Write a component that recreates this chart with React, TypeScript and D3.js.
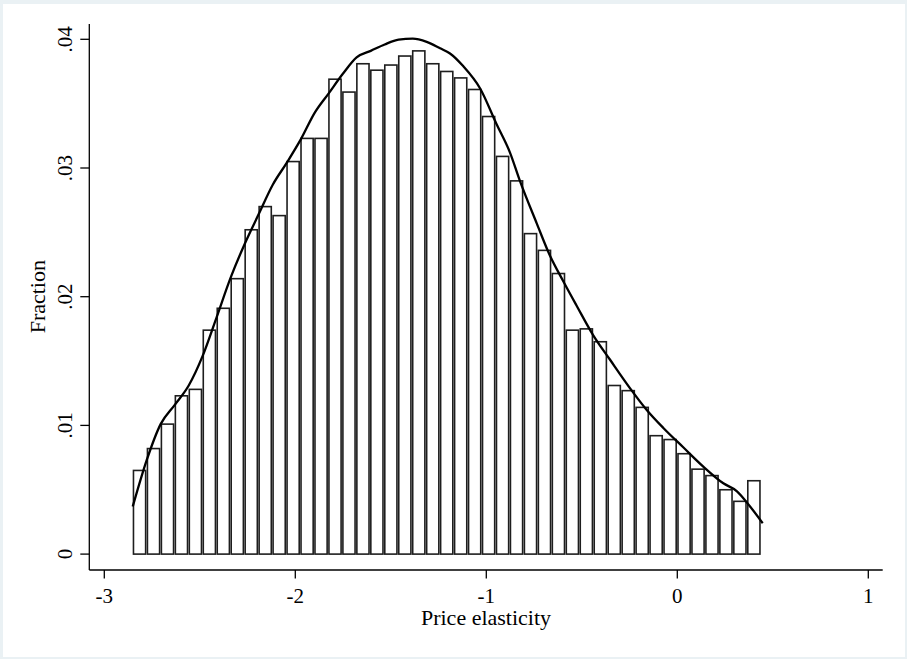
import { scaleLinear, line, curveMonotoneX } from "d3";

// histogram bins: start of first bin and common bin width (price elasticity units)
const binStart = -2.852;
const binWidth = 0.0731;

const barValues = [
  0.0065, 0.0082, 0.0101, 0.0123, 0.0128, 0.0174, 0.0191, 0.0214, 0.0252, 0.027,
  0.0263, 0.0305, 0.0323, 0.0323, 0.0369, 0.0359, 0.0381, 0.0376, 0.038, 0.0387,
  0.0391, 0.0381, 0.0375, 0.037, 0.0361, 0.034, 0.0309, 0.029, 0.0249, 0.0236,
  0.0218, 0.0174, 0.0175, 0.0165, 0.0131, 0.0127, 0.0114, 0.0092, 0.0089, 0.0078,
  0.0066, 0.0061, 0.005, 0.0041, 0.0057,
];

// smooth density curve (scaled to fraction)
const curveX = [
  -2.851, -2.778, -2.705, -2.631, -2.558, -2.485, -2.412, -2.338, -2.265, -2.192,
  -2.118, -2.045, -1.972, -1.898, -1.825, -1.752, -1.679, -1.605, -1.532, -1.459,
  -1.385, -1.312, -1.242, -1.19, -1.12, -1.033, -0.946, -0.876, -0.824, -0.736,
  -0.667, -0.597, -0.527, -0.44, -0.352, -0.248, -0.16, -0.073, 0.031, 0.136,
  0.241, 0.311, 0.381, 0.447,
];
const curveY = [
  0.0037, 0.0073, 0.0101, 0.0116, 0.0131, 0.0154, 0.0184, 0.0215, 0.0241, 0.0264,
  0.0287, 0.0304, 0.0322, 0.0343, 0.0358, 0.0373, 0.0386, 0.0391, 0.0396, 0.03997,
  0.04005, 0.0398, 0.0393, 0.0389, 0.0379, 0.0362, 0.0334, 0.0312, 0.029, 0.0257,
  0.0232, 0.0212, 0.0193, 0.017, 0.0151, 0.0129, 0.0112, 0.0098, 0.0083, 0.0068,
  0.0055, 0.0049, 0.0037, 0.0024,
];

const xTicks = [-3, -2, -1, 0, 1];
const yTicks = [0, 0.01, 0.02, 0.03, 0.04];
const yTickLabels = ["0", ".01", ".02", ".03", ".04"];

const W = 907;
const H = 659;
const font = "'Liberation Serif', 'Times New Roman', serif";

export default function App() {
  const x = scaleLinear().domain([-3, 1]).range([104.3, 868.3]);
  const y = scaleLinear().domain([0, 0.04]).range([554.1, 39.3]);

  const axisLeft = 89.3;
  const axisRight = 882.7;
  const axisTop = 24;
  const axisBottom = 570;

  const pts = curveX.map((v, i) => [v, curveY[i]] as [number, number]);
  const path = line<[number, number]>()
    .x((d) => x(d[0]))
    .y((d) => y(d[1]))
    .curve(curveMonotoneX)(pts);

  const step = x(binStart + binWidth) - x(binStart);

  return (
    <svg
      width={W}
      height={H}
      style={{ position: "absolute", left: 0, top: 0, display: "block" }}
      fontFamily={font}
    >
      <rect x={0} y={0} width={W} height={H} fill="#eaf1f4" />
      <rect x={3} y={4} width={W - 5} height={H - 6} fill="#ffffff" />

      {/* bars */}
      {barValues.map((v, i) => {
        const x0 = x(binStart + i * binWidth);
        return (
          <rect
            key={i}
            x={x0 + 0.9}
            y={y(v)}
            width={step - 1.8}
            height={y(0) - y(v)}
            fill="#ffffff"
            stroke="#1e1e1e"
            strokeWidth={1.6}
          />
        );
      })}

      {/* density curve */}
      <path d={path ?? ""} fill="none" stroke="#000" strokeWidth={2.3} strokeLinejoin="round" />

      {/* y axis */}
      <line x1={axisLeft} x2={axisLeft} y1={axisTop} y2={axisBottom} stroke="#000" strokeWidth={1.3} />
      {yTicks.map((t, i) => (
        <g key={t}>
          <line x1={axisLeft - 9} x2={axisLeft} y1={y(t)} y2={y(t)} stroke="#000" strokeWidth={1.3} />
          <text
            transform={`translate(71.5, ${y(t)}) rotate(-90)`}
            textAnchor="middle"
            fontSize={21}
            fill="#000"
          >
            {yTickLabels[i]}
          </text>
        </g>
      ))}
      <text
        transform={`translate(45, ${(y(0) + y(0.04)) / 2}) rotate(-90)`}
        textAnchor="middle"
        fontSize={22}
        fill="#000"
      >
        Fraction
      </text>

      {/* x axis */}
      <line x1={axisLeft} x2={axisRight} y1={axisBottom} y2={axisBottom} stroke="#000" strokeWidth={1.3} />
      {xTicks.map((t) => (
        <g key={t}>
          <line x1={x(t)} x2={x(t)} y1={axisBottom} y2={axisBottom + 8.5} stroke="#000" strokeWidth={1.3} />
          <text x={x(t)} y={602.7} textAnchor="middle" fontSize={21} fill="#000">
            {t < 0 ? `-${Math.abs(t)}` : `${t}`}
          </text>
        </g>
      ))}
      <text x={(axisLeft + axisRight) / 2} y={625} textAnchor="middle" fontSize={22} fill="#000">
        Price elasticity
      </text>
    </svg>
  );
}
